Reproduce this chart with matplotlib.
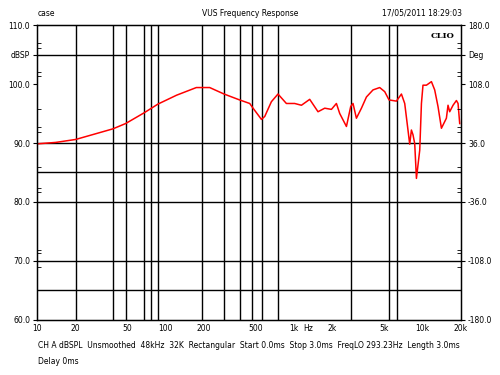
import matplotlib
matplotlib.use("Agg")
import matplotlib.pyplot as plt

freq_hz = [10, 14, 20, 39, 49, 68, 87.5, 122, 174, 221, 286, 378, 453, 481, 559, 593,
           668, 752, 874, 1014, 1145, 1328, 1541, 1738, 1960, 2143, 2274, 2565,
           2770, 2886, 3067, 3356, 3671, 4131, 4657, 5096, 5504, 6285, 6874, 7292,
           7731, 7974, 8222, 8458, 8723, 8995, 9546, 9840, 10118, 10760, 11770,
           12480, 13240, 14080, 15390, 15850, 16330, 17340, 18420, 18970, 19540]
spl_db = [89.85, 90.1, 90.6, 92.4, 93.3, 95.1, 96.6, 98.1, 99.4, 99.4, 98.3, 97.3, 96.7,
          95.9, 94.0, 94.5, 97.0, 98.3, 96.7, 96.7, 96.4, 97.4, 95.3, 95.9, 95.7,
          96.7, 95.0, 92.8, 96.2, 96.7, 94.2, 95.9, 97.8, 99.0, 99.4, 98.7, 97.3,
          97.1, 98.3, 96.7, 92.2, 89.8, 92.2, 91.4, 89.9, 84.0, 88.8, 96.7, 99.8,
          99.8, 100.4, 99.0, 96.2, 92.5, 94.2, 96.4, 95.3, 96.4, 97.2, 96.7, 93.3]

# grid as drawn by the analyser
vgrid_hz = [20, 39, 49, 68, 77, 87, 193, 286, 380, 472, 565, 758, 2790, 5540, 6350]
hgrid_db = [105, 90, 85, 80, 70, 65]

x_ticks = [10, 20, 50, 100, 200, 500, 1000, 1300, 2000, 5000, 10000, 20000]
x_labels = ["10", "20", "50", "100", "200", "500", "1k", "Hz", "2k", "5k", "10k", "20k"]
db_ticks = [110, 105, 100, 90, 80, 70, 60]
db_labels = ["110.0", "dBSP", "100.0", "90.0", "80.0", "70.0", "60.0"]
deg_ticks = [180, 144, 108, 36, -36, -108, -180]
deg_labels = ["180.0", "Deg", "108.0", "36.0", "-36.0", "-108.0", "-180.0"]
minor_db = [107, 106.1, 102, 101.4, 95.8, 92.7, 91.9, 85.9, 82.4, 81.7, 71.9, 71.4, 69]

fs = 5.5
fig = plt.figure(figsize=(5, 3.75), dpi=100)
ax = fig.add_axes([0.074, 0.1467, 0.848, 0.7866])

for f in vgrid_hz:
    ax.axvline(f, color="black", lw=1)
for d in hgrid_db:
    ax.axhline(d, color="black", lw=1)

ax.plot(freq_hz, spl_db, color="#ff0000", lw=1.1)

ax.set_xscale("log")
ax.set_xlim(10, 20000)
ax.set_ylim(60, 110)
ax.set_xticks(x_ticks)
ax.set_xticklabels(x_labels, fontsize=fs)
ax.minorticks_off()
ax.set_yticks(db_ticks)
ax.set_yticklabels(db_labels, fontsize=fs)
ax.set_yticks(minor_db, minor=True)
ax.tick_params(axis="x", length=0, pad=3)
ax.tick_params(axis="y", which="major", length=3, direction="out", pad=2)
ax.tick_params(axis="y", which="minor", length=3, direction="in")
for s in ax.spines.values():
    s.set_linewidth(1)

ax2 = ax.twinx()
ax2.set_ylim(-180, 180)
ax2.set_yticks(deg_ticks)
ax2.set_yticklabels(deg_labels, fontsize=fs)
ax2.set_yticks([(d - 85) * 7.2 for d in minor_db], minor=True)
ax2.tick_params(axis="y", which="major", length=3, direction="out", pad=2)
ax2.tick_params(axis="y", which="minor", length=3, direction="in")

ax.text(0.985, 0.975, "CLIO", transform=ax.transAxes, ha="right", va="top",
        fontsize=6, fontweight="bold", family="DejaVu Serif")

fig.text(0.076, 0.965, "case", fontsize=fs, va="center")
fig.text(0.5, 0.965, "VUS Frequency Response", fontsize=fs, ha="center", va="center")
fig.text(0.924, 0.965, "17/05/2011 18:29:03", fontsize=fs, ha="right", va="center")
fig.text(0.076, 0.08, "CH A dBSPL  Unsmoothed  48kHz  32K  Rectangular  Start 0.0ms  "
         "Stop 3.0ms  FreqLO 293.23Hz  Length 3.0ms", fontsize=fs, va="center")
fig.text(0.076, 0.035, "Delay 0ms", fontsize=fs, va="center")

fig.savefig("out.png", dpi=100)
